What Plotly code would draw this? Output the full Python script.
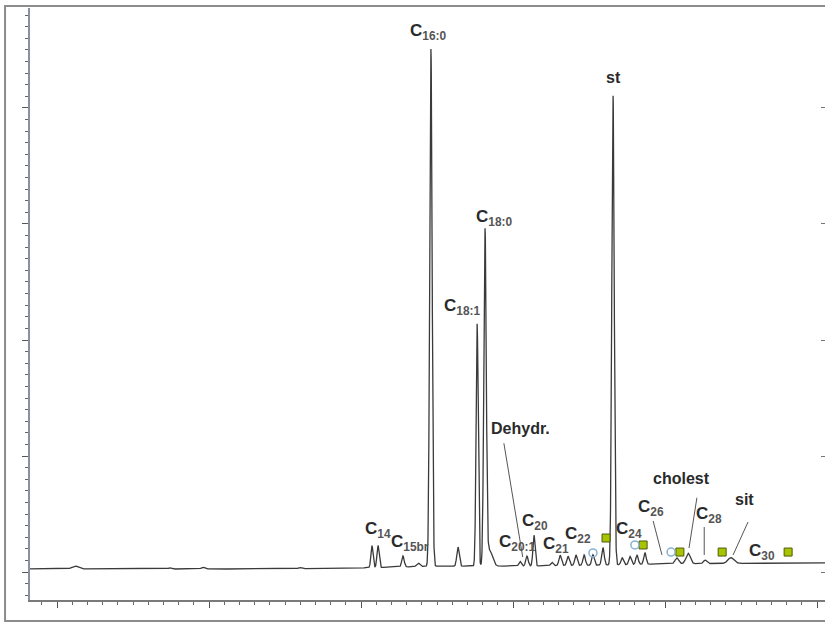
import numpy as np
import plotly.graph_objects as go

# ---- data (retention time in minutes, signal in arbitrary units) ----
peak_rt = [10.59, 13.72, 14.80, 17.99, 20.36, 20.56, 21.38, 21.88, 22.30, 23.19,
           23.82, 24.08, 24.22, 25.23, 25.46, 25.69, 26.28, 26.55, 26.81, 27.07,
           27.34, 27.63, 27.96, 28.29, 28.59, 28.85, 29.08, 29.34, 30.39, 30.76,
           31.32, 32.17]
peak_height = [0.25, 0.1, 0.15, 0.1, 1.9, 1.9, 0.95, 0.3, 44.6, 1.65,
               20.9, 28.6, 1.4, 0.4, 0.85, 2.65, 0.3, 0.9, 0.8, 0.9,
               0.9, 0.9, 1.5, 40.5, 0.6, 0.7, 0.8, 1.0, 0.5, 0.9,
               0.3, 0.5]
peak_sigma = [0.1, 0.05, 0.05, 0.05, 0.035, 0.035, 0.04, 0.05, 0.04, 0.04,
              0.035, 0.04, 0.1, 0.04, 0.04, 0.035, 0.04, 0.04, 0.04, 0.04,
              0.04, 0.04, 0.04, 0.04, 0.04, 0.04, 0.04, 0.04, 0.06, 0.07,
              0.05, 0.1]

baseline_rt = [9.1, 17.2, 20.0, 22.4, 25.0, 28.0, 30.5, 35.3]
baseline_level = [0.26, 0.26, 0.35, 0.5, 0.5, 0.6, 0.72, 0.78]

square_rt = [28.06, 29.28, 30.49, 31.88, 34.05]
square_y = [2.93, 2.33, 1.72, 1.72, 1.72]
circle_rt = [27.63, 29.01, 30.20]
circle_y = [1.64, 2.33, 1.72]

label_main = ["C", "st", "C", "C", "Dehydr.", "C", "C", "C", "C",
              "C", "C", "C", "C", "cholest", "C", "sit", "C"]
label_sub = ["16:0", "", "18:0", "18:1", "", "14", "15br", "20:1", "20",
             "21", "22", "24", "26", "", "28", "", "30"]
label_rt = [22.20, 28.29, 24.38, 23.32, 25.26, 20.56, 21.61, 25.13, 25.72,
            26.41, 27.14, 28.82, 29.54, 30.53, 31.45, 32.60, 33.19]
label_y = [46.55, 42.67, 30.52, 22.84, 12.41, 3.62, 2.5, 2.5, 4.31,
           2.33, 3.19, 3.62, 5.52, 8.10, 4.91, 6.21, 1.72]

# leader lines: (rt0, y0, rt1, y1)
leader_rt0 = [24.70, 29.61, 31.05, 31.29, 32.73]
leader_y0 = [11.1, 4.4, 6.4, 3.88, 4.31]
leader_rt1 = [25.32, 29.90, 30.79, 31.29, 32.24]
leader_y1 = [1.29, 1.47, 2.07, 1.47, 1.47]

# ---- build the chromatogram line from the peak table ----
t = np.arange(9.1, 35.3, 0.004)
signal = np.interp(t, baseline_rt, baseline_level)
for rt, h, s in zip(peak_rt, peak_height, peak_sigma):
    signal = signal + h * np.exp(-0.5 * ((t - rt) / s) ** 2)

fig = go.Figure()
fig.add_trace(go.Scatter(x=t, y=signal, mode="lines",
                         line=dict(color="#3a3a3a", width=1.3),
                         hoverinfo="skip", showlegend=False))
fig.add_trace(go.Scatter(x=square_rt, y=square_y, mode="markers",
                         marker=dict(symbol="square", size=8, color="#a8c400",
                                     line=dict(color="#4f5a10", width=1)),
                         showlegend=False))
fig.add_trace(go.Scatter(x=circle_rt, y=circle_y, mode="markers",
                         marker=dict(symbol="circle-open", size=8,
                                     color="#86b3d6", line=dict(width=1.5)),
                         showlegend=False))
# invisible trace to carry right axis ticks
fig.add_trace(go.Scatter(x=[20], y=[0], yaxis="y2", mode="markers",
                         marker=dict(opacity=0), showlegend=False,
                         hoverinfo="skip"))

for x0, y0, x1, y1 in zip(leader_rt0, leader_y0, leader_rt1, leader_y1):
    fig.add_shape(type="line", x0=x0, y0=y0, x1=x1, y1=y1, xref="x", yref="y",
                  line=dict(color="#555555", width=1))

for main, sub, x, y in zip(label_main, label_sub, label_rt, label_y):
    if sub:
        txt = ("<b>" + main + "<sub><span style='color:#555'>" + sub +
               "</span></sub></b>")
        size = 17
    else:
        txt = "<b>" + main + "</b>"
        size = 16
    fig.add_annotation(x=x, y=y, text=txt, showarrow=False,
                       font=dict(family="Liberation Sans, Arial", size=size,
                                 color="#2a2a2a"),
                       xanchor="center", yanchor="middle")

# outer frame
fig.add_shape(type="rect", xref="paper", yref="paper",
              x0=-0.0314, x1=1.05, y0=-0.0355, y1=1.0034,
              line=dict(color="#8c8c8c", width=2), layer="below")

yr = [-2.414, 48.62]
fig.update_layout(
    width=825, height=623,
    margin=dict(l=30, r=0, t=8, b=23),
    paper_bgcolor="white", plot_bgcolor="white",
    xaxis=dict(range=[9.112, 35.263], showgrid=False, zeroline=False,
               showline=True, linecolor="#7a7a7a", linewidth=1.5,
               ticks="outside", tick0=10, dtick=5, ticklen=6, tickwidth=1,
               tickcolor="#555", showticklabels=False,
               minor=dict(ticks="outside", dtick=0.5, tick0=10, ticklen=3,
                          tickcolor="#666", tickwidth=1)),
    yaxis=dict(range=yr, showgrid=False, zeroline=False,
               showline=True, linecolor="#8a90a0", linewidth=1.5,
               ticks="outside", tick0=0, dtick=10, ticklen=6, tickwidth=1,
               tickcolor="#555", showticklabels=False,
               minor=dict(ticks="outside", dtick=1, tick0=0, ticklen=3,
                          tickcolor="#666", tickwidth=1)),
    yaxis2=dict(range=yr, overlaying="y", side="right", showgrid=False,
                zeroline=False, showline=False, ticks="inside", tick0=0,
                dtick=10, ticklen=4, tickcolor="#777", showticklabels=False),
)

fig.write_html("out.html", config={"displayModeBar": False},
               post_script="document.body.style.margin='0px';"
                           "document.body.style.padding='0px';")
